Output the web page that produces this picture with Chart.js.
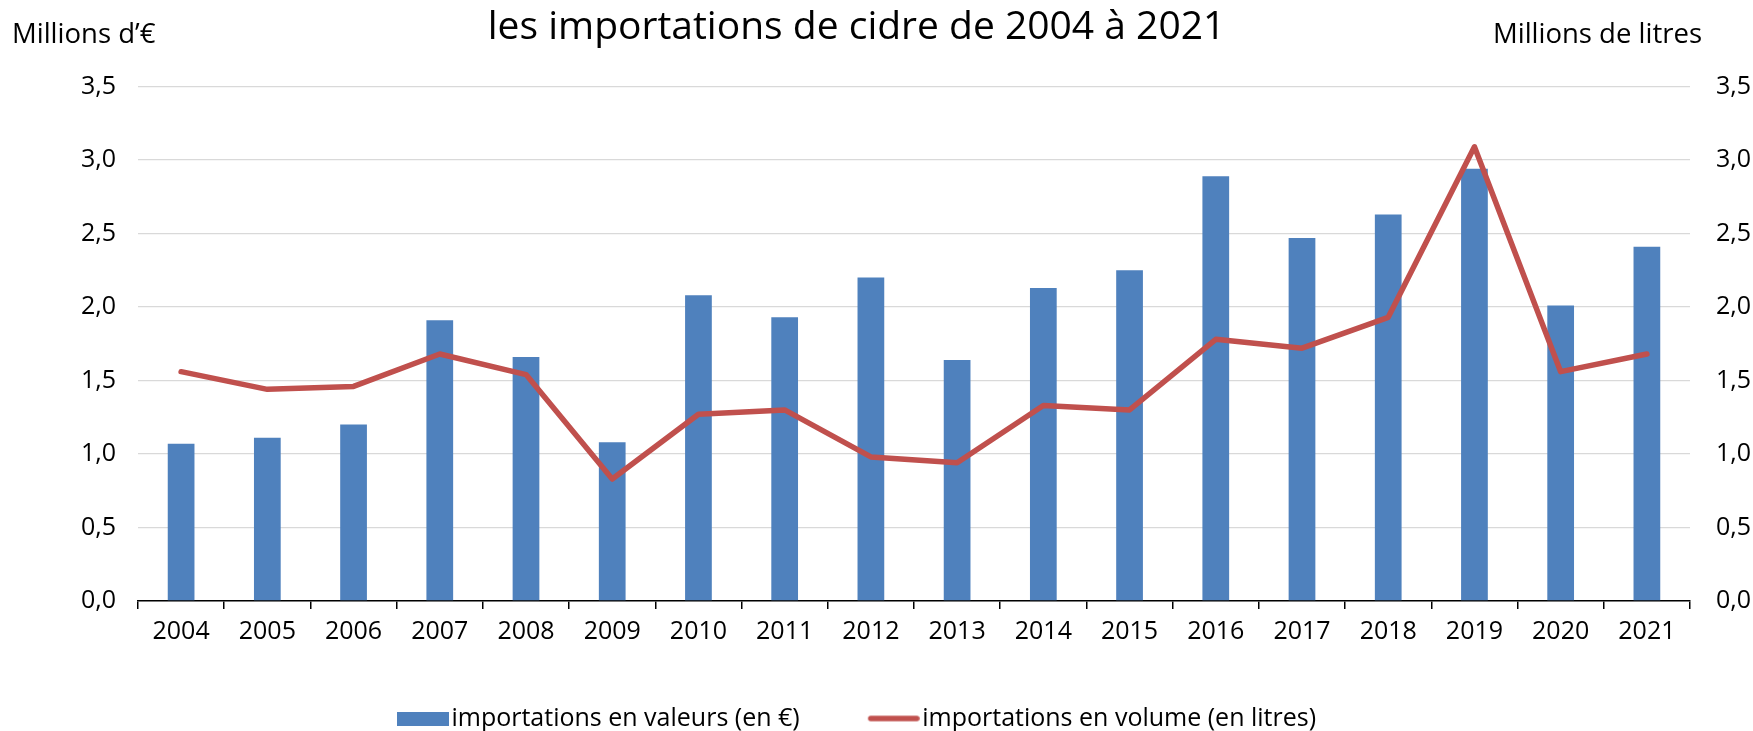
<!DOCTYPE html>
<html>
<head>
<meta charset="utf-8">
<script src="https://cdn.jsdelivr.net/npm/chart.js@4.4.1/dist/chart.umd.min.js"></script>
<style>
  html, body { margin: 0; padding: 0; background: #ffffff; }
  #wrap { width: 1753px; height: 731px; }
</style>
</head>
<body>
<div id="wrap"><canvas id="c" width="1753" height="731"></canvas></div>
<script>
const categories = ["2004","2005","2006","2007","2008","2009","2010","2011","2012","2013","2014","2015","2016","2017","2018","2019","2020","2021"];
const valeurs = [1.07, 1.11, 1.20, 1.91, 1.66, 1.08, 2.08, 1.93, 2.20, 1.64, 2.13, 2.25, 2.89, 2.47, 2.63, 2.94, 2.01, 2.41];
const volumes = [1.56, 1.44, 1.46, 1.68, 1.54, 0.83, 1.27, 1.30, 0.98, 0.94, 1.33, 1.30, 1.78, 1.72, 1.93, 3.09, 1.56, 1.68];
const titleText = "les importations de cidre de 2004 à 2021";
const leftUnit = "Millions d\u2019€";
const rightUnit = "Millions de litres";
const serieValeurs = "importations en valeurs (en €)";
const serieVolumes = "importations en volume (en litres)";

const FONT = "'Open Sans', 'Noto Sans', sans-serif";
const BAR_COLOR = '#4F81BD';
const LINE_COLOR = '#C0504D';
const fmt = v => Number(v).toFixed(1).replace('.', ',');

// legend symbols (drawn as small canvases so the symbol sits close to its text)
function legendSymbol(kind) {
  const c = document.createElement('canvas');
  c.width = 62;
  c.height = 14;
  const g = c.getContext('2d');
  if (kind === 'rect') {
    g.fillStyle = BAR_COLOR;
    g.fillRect(10, 0, 52, 14);
  } else {
    g.strokeStyle = LINE_COLOR;
    g.lineWidth = 5.5;
    g.lineCap = 'round';
    g.beginPath();
    g.moveTo(13, 7);
    g.lineTo(59, 7);
    g.stroke();
  }
  return c;
}

const unitsPlugin = {
  id: 'units',
  afterLayout(chart) {
    // widen the label clip areas so tick labels are not cut
    const y1 = chart.scales.y1;
    if (y1) y1.right = chart.width;
    const y = chart.scales.y;
    if (y) y.left = 0;
    const x = chart.scales.x;
    if (x) x.bottom = x.top + 60;
  },
  afterDraw(chart) {
    const ctx = chart.ctx;
    ctx.save();
    ctx.fillStyle = '#000';
    ctx.font = "27.5px " + FONT;
    ctx.textBaseline = 'middle';
    ctx.textAlign = 'left';
    ctx.fillText(leftUnit, 12, 35);
    ctx.textAlign = 'right';
    ctx.fillText(rightUnit, 1702, 35);
    ctx.restore();
  }
};

new Chart(document.getElementById('c'), {
  type: 'bar',
  data: {
    labels: categories,
    datasets: [
      {
        type: 'bar',
        label: serieValeurs,
        data: valeurs,
        backgroundColor: BAR_COLOR,
        borderWidth: 0,
        yAxisID: 'y',
        order: 1,
        pointStyle: legendSymbol('rect'),
        barPercentage: 0.31,
        categoryPercentage: 1.0
      },
      {
        type: 'line',
        label: serieVolumes,
        data: volumes,
        borderColor: LINE_COLOR,
        backgroundColor: LINE_COLOR,
        borderWidth: 5.5,
        tension: 0,
        pointRadius: 0,
        pointHoverRadius: 0,
        borderJoinStyle: 'round',
        borderCapStyle: 'round',
        yAxisID: 'y1',
        order: 0,
        pointStyle: legendSymbol('line'),
        fill: false
      }
    ]
  },
  options: {
    responsive: false,
    animation: false,
    devicePixelRatio: 1,
    layout: { padding: { left: 0, right: 40, top: 0, bottom: 0 } },
    plugins: {
      tooltip: { enabled: false },
      title: {
        display: true,
        text: titleText,
        color: '#000',
        font: { family: FONT, size: 39, weight: 'normal', lineHeight: 1.2 },
        padding: { top: 4, bottom: 35.7 }
      },
      legend: {
        display: true,
        position: 'bottom',
        maxHeight: 93,
        labels: {
          usePointStyle: true,
          pointStyleWidth: 42,
          boxHeight: 14,
          padding: 68,
          color: '#000',
          font: { family: FONT, size: 25 },
          sort: (a, b) => a.datasetIndex - b.datasetIndex
        }
      }
    },
    scales: {
      x: {
        offset: true,
        afterFit(scale) { scale.height = 37; },
        grid: {
          offset: true,
          drawOnChartArea: false,
          drawTicks: true,
          tickLength: 8,
          color: '#000',
          lineWidth: 1.5
        },
        border: { display: true, color: '#000', width: 1.5 },
        ticks: {
          autoSkip: false,
          maxRotation: 0,
          padding: 8,
          color: '#000',
          font: { family: FONT, size: 25 }
        }
      },
      y: {
        position: 'left',
        min: 0,
        max: 3.5,
        afterFit(scale) { scale.width = 138; },
        ticks: {
          stepSize: 0.5,
          padding: 22,
          color: '#000',
          font: { family: FONT, size: 25 },
          callback: v => fmt(v)
        },
        grid: { color: '#D9D9D9', lineWidth: 1.3, drawTicks: false },
        border: { display: false }
      },
      y1: {
        position: 'right',
        min: 0,
        max: 3.5,
        afterFit(scale) { scale.width = 23; },
        ticks: {
          stepSize: 0.5,
          padding: 26,
          color: '#000',
          font: { family: FONT, size: 25 },
          callback: v => fmt(v)
        },
        grid: { drawOnChartArea: false, drawTicks: false },
        border: { display: false }
      }
    }
  },
  plugins: [unitsPlugin]
});
</script>
</body>
</html>
